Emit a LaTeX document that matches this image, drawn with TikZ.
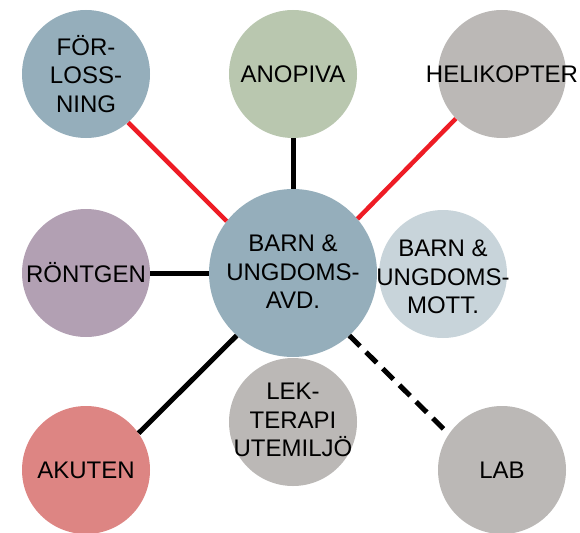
\documentclass[tikz,border=0pt]{standalone}
\usepackage{fontspec}
\setmainfont{Liberation Sans}
\definecolor{cblue}{HTML}{95AEBB}
\definecolor{cgreen}{HTML}{B9C7AF}
\definecolor{cgray}{HTML}{BBB8B6}
\definecolor{cmauve}{HTML}{B2A0B3}
\definecolor{clight}{HTML}{C8D4DA}
\definecolor{cred}{HTML}{DD8583}
\definecolor{lred}{HTML}{EE1C25}
\begin{document}
\begin{tikzpicture}[x=1pt,y=-1pt,
  disc/.style={circle,draw=none,inner sep=0pt,minimum size=128pt},
  bigdisc/.style={circle,draw=none,inner sep=0pt,minimum size=168pt},
  txt/.style={inner sep=0pt,align=center,font=\fontsize{24}{28.5}\selectfont},
  link/.style={line width=5pt},
  redlink/.style={line width=4.5pt,draw=lred},
  dashlink/.style={line width=5pt,dash pattern=on 15pt off 8.5pt}]
\useasboundingbox (0,0) rectangle (580,532);
% circles
\node[disc,fill=cblue] (f) at (86,74) {};
\node[disc,fill=cgreen] (a) at (293,74) {};
\node[disc,fill=cgray] (h) at (502,74) {};
\node[disc,fill=cmauve] (r) at (86,273) {};
\node[bigdisc,fill=cblue] (c) at (293,273) {};
\node[disc,fill=clight] (m) at (443,274) {};
\node[disc,fill=cgray] (l) at (293,422) {};
\node[disc,fill=cred] (k) at (86,470) {};
\node[disc,fill=cgray] (b) at (502,470) {};
% texts
\node[txt] (ft) at (86,74) {FÖR-\\LOSS-\\NING};
\node[txt] (at) at (293,74) {ANOPIVA};
\node[txt] (ht) at (502,74) {HELIKOPTER};
\node[txt] (rt) at (86,273) {RÖNTGEN};
\node[txt] (ct) at (293,272) {BARN \&\\UNGDOMS-\\AVD.};
\node[txt] (mt) at (443,277) {BARN \&\\UNGDOMS-\\MOTT.};
\node[txt] (lt) at (293,420) {LEK-\\TERAPI\\UTEMILJÖ};
\node[txt] (kt) at (86,470) {AKUTEN};
\node[txt] (bt) at (502,470) {LAB};
% connectors
\draw[redlink] (f.-49) -- (c.142);
\draw[redlink] (h.224) -- (c.40);
\draw[link] (a.south) -- (c.north);
\draw[link] (r.east) -- (c.west);
\draw[link] (k.35) -- (c.228);
\draw[dashlink] (c.-48) -- (b.146);
\end{tikzpicture}
\end{document}
